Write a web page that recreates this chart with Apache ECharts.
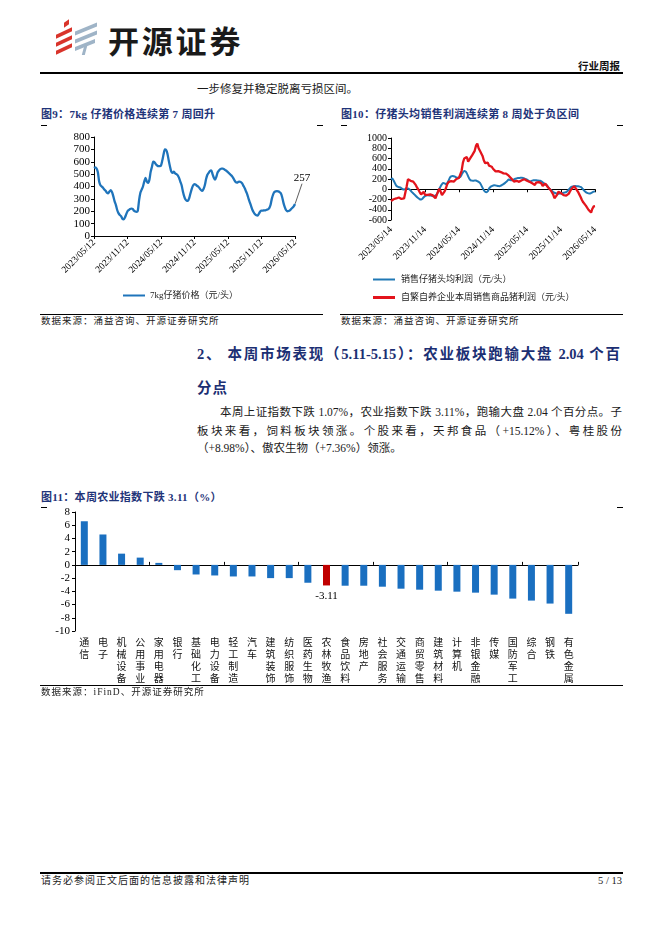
<!DOCTYPE html>
<html><head><meta charset="utf-8">
<script src="https://cdn.jsdelivr.net/npm/echarts@6/dist/echarts.min.js"></script>
<style>
body{margin:0;background:#fff;}
#page{position:relative;width:662px;height:936px;overflow:hidden;background:#fff;font-family:'Liberation Serif','Noto Sans CJK SC',serif;color:#1a1a1a;}
.t{position:absolute;white-space:nowrap;}
.rule{position:absolute;background:#000;}
.chart{position:absolute;}
.ftitle{position:absolute;white-space:nowrap;font-weight:bold;color:#1f3479;font-size:11px;line-height:12px;letter-spacing:0.3px;}
.src{position:absolute;white-space:nowrap;font-size:9.5px;line-height:10px;letter-spacing:1px;color:#222;}
.j{text-align:justify;text-align-last:justify;}
.mk{position:absolute;height:1px;width:6px;background:#000;}
.lg{position:absolute;}
</style></head>
<body><div id="page">
<!-- logo -->
<div class="lg" style="left:64px;top:21px;width:5px;height:5px;background:#d9342b;transform:skewY(-35deg);"></div>
<div class="lg" style="left:56px;top:31px;width:16px;height:4px;background:#d9342b;transform:skewY(-25deg);"></div>
<div class="lg" style="left:56px;top:39px;width:16px;height:4px;background:#d9342b;transform:skewY(-25deg);"></div>
<div class="lg" style="left:56px;top:47px;width:16px;height:4px;background:#d9342b;transform:skewY(-25deg);"></div>
<div class="lg" style="left:75px;top:27px;width:22px;height:4px;background:#9fb4c7;transform:skewY(-22deg);"></div>
<div class="lg" style="left:75px;top:35px;width:22px;height:4px;background:#9fb4c7;transform:skewY(-22deg);"></div>
<div class="lg" style="left:75px;top:43px;width:20px;height:4px;background:#9fb4c7;transform:skewY(-22deg);"></div>
<div class="lg" style="left:83px;top:46px;width:3px;height:9px;background:#9fb4c7;transform:skewX(-15deg);"></div>
<div class="t" style="left:108px;top:24px;font-family:'Noto Sans CJK SC',sans-serif;font-weight:bold;font-size:31px;line-height:32px;letter-spacing:2.8px;color:#1a1a1a;">开源证券</div>
<div class="t" style="right:42px;top:60px;font-family:'Noto Sans CJK SC',sans-serif;font-weight:bold;font-size:10.5px;line-height:11px;color:#111;">行业周报</div>
<div class="rule" style="left:40px;top:72px;width:583px;height:1.5px;"></div>

<div class="t" style="left:197px;top:83px;font-size:11.5px;line-height:12px;">一步修复并稳定脱离亏损区间。</div>

<!-- Fig 9 -->
<div class="ftitle" style="left:41px;top:108px;">图9：7kg 仔猪价格连续第 7 周回升</div>
<div class="mk" style="left:41px;top:125px;"></div>
<div class="mk" style="left:317px;top:125px;"></div>
<div id="c1" class="chart" style="left:40px;top:128px;width:285px;height:182px;"></div>
<div class="rule" style="left:40px;top:314px;width:283px;height:1px;"></div>
<div class="src" style="left:41px;top:316px;">数据来源：涌益咨询、开源证券研究所</div>

<!-- Fig 10 -->
<div class="ftitle" style="left:341px;top:108px;">图10：仔猪头均销售利润连续第 8 周处于负区间</div>
<div class="mk" style="left:341px;top:125px;"></div>
<div class="mk" style="left:617px;top:125px;"></div>
<div id="c2" class="chart" style="left:340px;top:128px;width:285px;height:182px;"></div>
<div class="rule" style="left:340px;top:314px;width:283px;height:1px;"></div>
<div class="src" style="left:341px;top:316px;">数据来源：涌益咨询、开源证券研究所</div>

<!-- Section heading -->
<div class="t j" style="left:197px;top:346px;width:423px;font-weight:bold;color:#1c2f73;font-size:14.5px;line-height:16px;">2、 本周市场表现（5.11-5.15）：农业板块跑输大盘 2.04 个百</div>
<div class="t" style="left:197px;top:380px;font-weight:bold;color:#1c2f73;font-size:14.5px;line-height:16px;letter-spacing:1px;">分点</div>
<div class="t j" style="left:220px;top:406px;width:402px;font-size:11.5px;line-height:12px;">本周上证指数下跌 1.07%，农业指数下跌 3.11%，跑输大盘 2.04 个百分点。子</div>
<div class="t j" style="left:197px;top:425px;width:425px;font-size:11.5px;line-height:12px;">板块来看，饲料板块领涨。个股来看，天邦食品（+15.12%）、粤桂股份</div>
<div class="t" style="left:197px;top:442px;font-size:11.5px;line-height:12px;">（+8.98%）、傲农生物（+7.36%）领涨。</div>

<!-- Fig 11 -->
<div class="ftitle" style="left:41px;top:491px;">图11：本周农业指数下跌 3.11（%）</div>
<div class="mk" style="left:41px;top:507px;"></div>
<div class="mk" style="left:617px;top:507px;"></div>
<div id="c3" class="chart" style="left:30px;top:505px;width:600px;height:200px;"></div>
<div class="rule" style="left:40px;top:685px;width:583px;height:1px;"></div>
<div class="src" style="left:41px;top:687px;">数据来源：iFinD、开源证券研究所</div>

<!-- footer -->
<div class="rule" style="left:40px;top:872px;width:583px;height:1.5px;"></div>
<div class="t" style="left:41px;top:875px;font-size:10px;line-height:11px;letter-spacing:1px;color:#222;">请务必参阅正文后面的信息披露和法律声明</div>
<div class="t" style="right:40px;top:875px;font-size:10.5px;line-height:11px;color:#222;">5 / 13</div>
</div>

<script>
// ---------- data ----------
const pigTickLabels = ['2023/05/12','2023/11/12','2024/05/12','2024/11/12','2025/05/12','2025/11/12','2026/05/12'];
const pigPrice = [550,555,545,515,440,410,400,390,375,365,
350,345,360,370,355,320,280,250,210,185,
170,160,140,135,150,175,200,210,218,222,
220,205,198,195,205,290,350,375,400,440,
470,440,430,455,520,560,600,595,580,570,
565,565,570,610,660,700,695,665,610,560,
520,510,520,505,500,490,470,440,410,360,
320,295,285,285,310,350,385,410,420,415,
405,398,385,372,365,380,410,460,495,510,
525,530,500,470,455,480,515,530,540,545,
545,540,532,525,515,505,495,485,470,450,
435,432,437,440,435,425,405,385,360,335,
300,270,240,210,190,175,167,165,180,198,
205,205,207,208,212,215,225,250,300,335,
355,360,362,360,355,345,315,270,235,210,
200,202,207,218,228,240,257];

const profitTickLabels = ['2023/05/14','2023/11/14','2024/05/14','2024/11/14','2025/05/14','2025/11/14','2026/05/14'];
const pigletProfit = [190,210,170,120,70,50,40,35,20,0,
-5,5,15,15,0,-25,-55,-80,-105,-130,
-155,-175,-195,-200,-185,-155,-135,-125,-118,-120,
-120,-128,-135,-130,-122,-100,-50,10,60,100,
120,115,100,120,165,225,250,260,255,245,
230,222,228,240,285,330,355,345,310,250,
200,175,168,165,172,170,158,145,125,80,
30,-20,-50,-58,-40,15,45,60,72,80,
75,68,62,60,70,85,100,120,140,165,
190,182,175,182,190,205,212,218,220,222,
222,220,210,198,188,170,152,158,168,175,
176,175,172,168,165,152,135,118,100,82,
50,15,-10,-30,-55,-68,-78,-85,-87,-85,
-82,-76,-70,-62,-55,-35,-5,25,45,55,
60,62,60,57,52,45,25,-5,-35,-55,
-70,-80,-85,-75,-60,-48,-35];
const farmProfit = [-230,-215,-195,-170,-180,-165,-160,-180,-190,-195,
-180,-150,60,195,180,165,175,150,115,80,
30,-10,-60,-100,-110,-50,-110,-95,-110,-125,
-100,-120,-120,-110,-175,-150,-40,10,-50,-115,
-100,-40,20,100,140,150,160,160,150,170,
200,215,220,250,360,520,600,570,630,540,
560,620,660,690,750,850,890,800,750,730,
650,560,510,505,520,460,465,440,400,375,
350,345,355,320,335,315,310,320,305,285,
265,240,210,175,150,150,165,145,145,155,
175,205,195,170,165,175,145,110,115,145,
85,130,130,140,140,115,65,90,110,85,
40,10,-15,-45,-100,-175,-160,-110,-50,-85,
-75,-70,-115,-135,-125,-110,-85,-35,5,30,
60,40,-10,-50,-100,-150,-210,-255,-290,-320,
-355,-400,-430,-455,-380,-335,-330];

const industries = ['通信','电子','机械设备','公用事业','家用电器','银行','基础化工','电力设备','轻工制造','汽车','建筑装饰','纺织服饰','医药生物','农林牧渔','食品饮料','房地产','社会服务','交通运输','商贸零售','建筑材料','计算机','非银金融','传媒','国防军工','综合','钢铁','有色金属'];
const industryChange = [6.6,4.6,1.7,1.1,0.3,-0.8,-1.45,-1.6,-1.75,-1.75,-2.0,-2.0,-2.7,-3.11,-3.15,-3.15,-3.3,-3.6,-3.75,-3.9,-4.05,-4.2,-4.5,-5.1,-5.4,-5.85,-7.4];
const highlightIndustry = '农林牧渔';

const pigSeriesName = '7kg仔猪价格（元/头）';
const pigletSeriesName = '销售仔猪头均利润（元/头）';
const farmSeriesName = '自繁自养企业本周销售商品猪利润（元/头）';

// ---------- helpers ----------
const TICK_STEP = 26; // weeks between labelled ticks (half a year)
function weeklyDates(start, n) {
  const out = []; const d = new Date(start + 'T00:00:00Z');
  for (let i = 0; i < n; i++) {
    const x = new Date(d.getTime() + i * 7 * 86400000);
    out.push(x.getUTCFullYear() + '/' + String(x.getUTCMonth() + 1).padStart(2, '0') + '/' + String(x.getUTCDate()).padStart(2, '0'));
  }
  return out;
}
const SERIF = "'Liberation Serif','Noto Sans CJK SC',serif";
const LEG = "'Liberation Serif','Noto Sans CJK SC',sans-serif";
const BLACK = '#000';
const plain = v => String(v);

// ---------- chart 9 ----------
const pigWeeks = weeklyDates('2023-05-12', pigPrice.length);
const c1 = echarts.init(document.getElementById('c1'));
c1.setOption({
  animation: false,
  grid: {left: 54, right: 30, top: 9, bottom: 74, containLabel: false, outerBoundsMode: 'none'},
  legend: {data: [pigSeriesName], left: 83, top: 163, padding: 0, icon: 'rect', itemWidth: 22, itemHeight: 2, itemGap: 0,
    textStyle: {fontSize: 9, color: '#222', fontFamily: LEG}},
  xAxis: {type: 'category', data: pigWeeks, boundaryGap: false,
    axisLine: {lineStyle: {color: BLACK, width: 1}},
    axisTick: {show: true, interval: TICK_STEP - 1, length: 3, lineStyle: {color: BLACK}},
    axisLabel: {interval: TICK_STEP - 1, rotate: 45, margin: 5, fontSize: 9.5, color: BLACK, fontFamily: SERIF,
      hideOverlap: false, formatter: (v, i) => pigTickLabels[Math.round(i / TICK_STEP)] || ''}},
  yAxis: {type: 'value', min: 0, max: 800, interval: 100,
    axisLine: {show: true, lineStyle: {color: BLACK}}, axisTick: {show: true, length: 3, lineStyle: {color: BLACK}},
    splitLine: {show: false}, axisLabel: {fontSize: 11, color: BLACK, margin: 4, fontFamily: SERIF, formatter: plain}},
  series: [{type: 'line', name: pigSeriesName, symbol: 'none', showSymbol: true, showAllSymbol: true, smooth: 0.25,
    lineStyle: {color: '#1f74bb', width: 2.3}, itemStyle: {color: '#1f74bb'},
    labelLayout: {dx: 7, dy: -16},
    data: pigPrice.map((v, i) => i === pigPrice.length - 1
      ? {value: v, symbol: 'circle', symbolSize: 1,
         label: {show: true, position: 'top', distance: 4, fontSize: 11, color: BLACK, fontFamily: SERIF},
         labelLine: {show: true, lineStyle: {color: '#333', width: 0.8}}}
      : v)}]
});

// ---------- chart 10 ----------
const profitWeeks = weeklyDates('2023-05-14', pigletProfit.length);
const c2 = echarts.init(document.getElementById('c2'));
c2.setOption({
  animation: false,
  grid: {left: 51, right: 30, top: 10, bottom: 90, containLabel: false, outerBoundsMode: 'none'},
  legend: [
    {data: [pigletSeriesName], left: 33, top: 147, padding: 0, icon: 'rect', itemWidth: 22, itemHeight: 2,
      textStyle: {fontSize: 9, color: '#222', fontFamily: LEG, padding: [0, 0, 0, 1]}},
    {data: [farmSeriesName], left: 33, top: 165, padding: 0, icon: 'rect', itemWidth: 22, itemHeight: 3,
      textStyle: {fontSize: 9, color: '#222', fontFamily: LEG, padding: [0, 0, 0, 1]}}
  ],
  xAxis: {type: 'category', data: profitWeeks, boundaryGap: false,
    axisLine: {onZero: true, lineStyle: {color: BLACK, width: 1}},
    axisTick: {show: true, interval: TICK_STEP - 1, length: 3, lineStyle: {color: BLACK}},
    axisLabel: {interval: TICK_STEP - 1, rotate: 45, margin: 8, fontSize: 9.5, color: BLACK, fontFamily: SERIF,
      hideOverlap: false, formatter: (v, i) => profitTickLabels[Math.round(i / TICK_STEP)] || ''}},
  yAxis: {type: 'value', min: -600, max: 1000, interval: 200,
    axisLine: {show: true, lineStyle: {color: BLACK}}, axisTick: {show: true, length: 3, lineStyle: {color: BLACK}},
    splitLine: {show: false}, axisLabel: {fontSize: 10, color: BLACK, margin: 4, fontFamily: SERIF, formatter: plain}},
  series: [
    {type: 'line', name: pigletSeriesName, data: pigletProfit, symbol: 'none', smooth: 0.2,
      lineStyle: {color: '#2078b5', width: 2}, itemStyle: {color: '#2078b5'}},
    {type: 'line', name: farmSeriesName, data: farmProfit, symbol: 'none',
      lineStyle: {color: '#e3141c', width: 2.3}, itemStyle: {color: '#e3141c'}}
  ]
});

// ---------- chart 11 ----------
const c3 = echarts.init(document.getElementById('c3'));
c3.setOption({
  animation: false,
  grid: {left: 45, right: 52, top: 7, bottom: 74, containLabel: false, outerBoundsMode: 'none'},
  xAxis: [
    {type: 'category', data: industries,
      axisLine: {onZero: true, lineStyle: {color: BLACK, width: 1}},
      axisTick: {show: true, inside: true, length: 3, lineStyle: {color: BLACK}},
      axisLabel: {show: false}},
    {type: 'category', data: industries, position: 'bottom',
      axisLine: {show: false, onZero: false}, axisTick: {show: false}, splitLine: {show: false},
      axisLabel: {interval: 0, margin: 5, fontSize: 10, lineHeight: 12, color: '#111', hideOverlap: false,
        fontFamily: "'Noto Sans CJK SC',sans-serif", formatter: v => v.split('').join('\n')}}
  ],
  yAxis: {type: 'value', min: -10, max: 8, interval: 2,
    axisLine: {show: true, lineStyle: {color: BLACK}}, axisTick: {show: true, length: 3, lineStyle: {color: BLACK}},
    splitLine: {show: false}, axisLabel: {fontSize: 11, color: BLACK, margin: 5, fontFamily: SERIF, formatter: plain}},
  series: [{type: 'bar', barWidth: 7, xAxisIndex: 0,
    data: industryChange.map((v, i) => industries[i] === highlightIndustry
      ? {value: v, itemStyle: {color: '#c00000'},
         label: {show: true, position: 'bottom', distance: 5, fontSize: 11, color: BLACK, fontFamily: SERIF}}
      : {value: v, itemStyle: {color: '#1a6fc0'}})}]
});
</script>
</body></html>
